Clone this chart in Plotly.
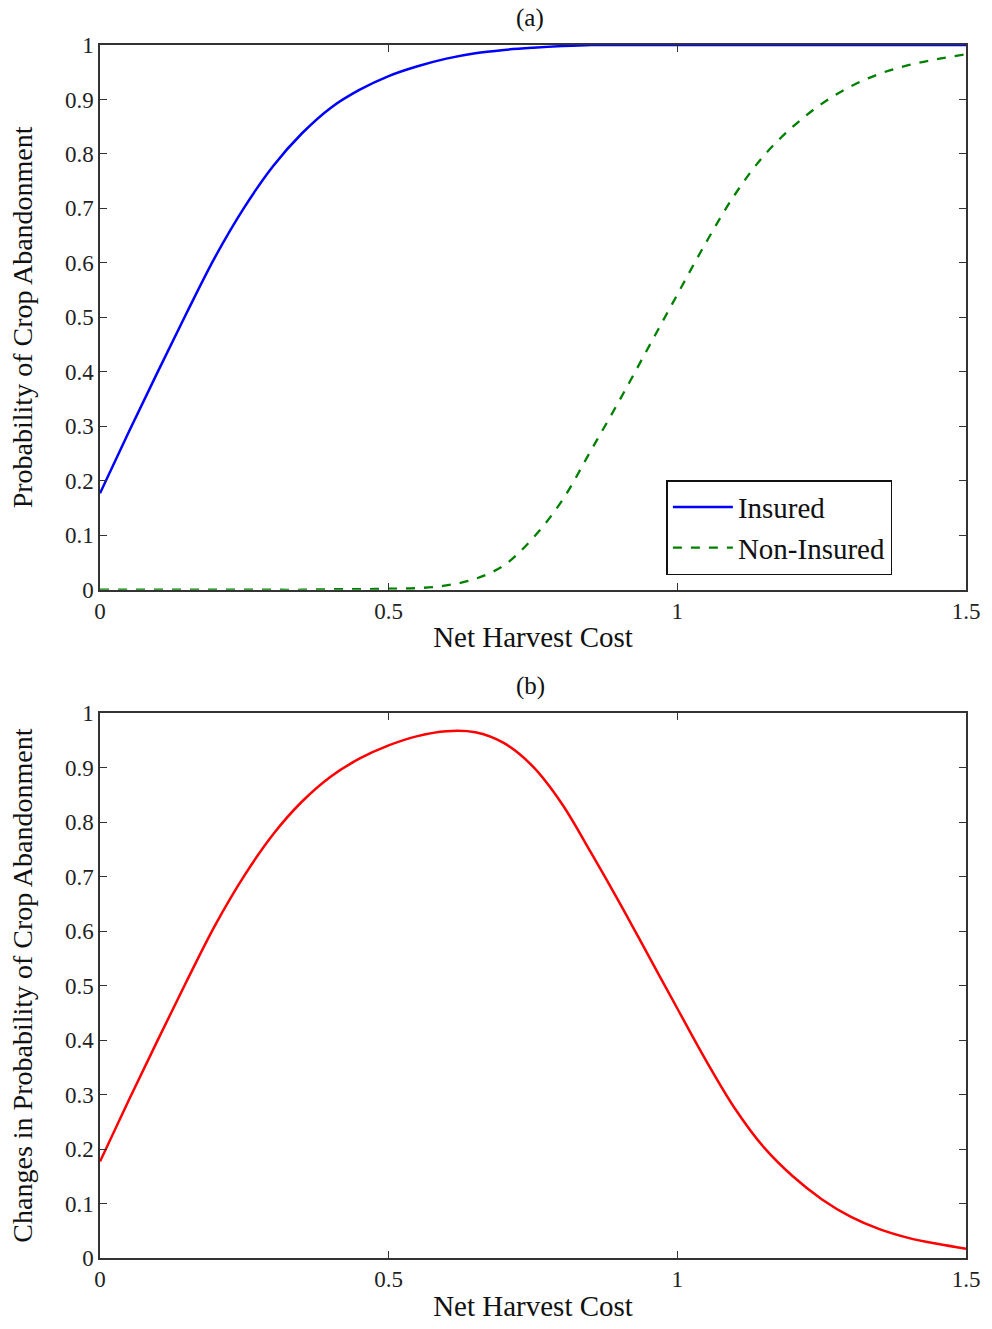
import plotly.graph_objects as go
from plotly.subplots import make_subplots

x = [0.0, 0.05, 0.1, 0.15, 0.2, 0.25, 0.3, 0.35, 0.4, 0.45, 0.5, 0.55, 0.6, 0.65, 0.7, 0.75,
     0.8, 0.85, 0.9, 0.95, 1.0, 1.05, 1.1, 1.15, 1.2, 1.25, 1.3, 1.35, 1.4, 1.45, 1.5]

insured = [0.177, 0.290, 0.400, 0.508, 0.612, 0.702, 0.778, 0.838, 0.885, 0.918, 0.943, 0.961,
           0.975, 0.985, 0.991, 0.995, 0.998, 1.0, 1.0, 1.0, 1.0, 1.0, 1.0, 1.0, 1.0, 1.0, 1.0,
           1.0, 1.0, 1.0, 1.0]

non_insured = [0.0, 0.0, 0.0, 0.0, 0.0, 0.0, 0.0, 0.0, 0.001, 0.001, 0.002, 0.003, 0.008,
               0.02, 0.045, 0.095, 0.163, 0.255, 0.348, 0.445, 0.542, 0.638, 0.726, 0.797, 0.85,
               0.892, 0.924, 0.947, 0.963, 0.974, 0.983]

change = [0.177, 0.290, 0.400, 0.508, 0.612, 0.702, 0.778, 0.838, 0.884, 0.917, 0.941, 0.958,
          0.967, 0.965, 0.945, 0.902, 0.834, 0.745, 0.652, 0.555, 0.458, 0.362, 0.274, 0.203,
          0.150, 0.108, 0.076, 0.053, 0.037, 0.026, 0.017]

xticks = [0, 0.5, 1, 1.5]
xticklabels = ["0", "0.5", "1", "1.5"]
yticks = [0, 0.1, 0.2, 0.3, 0.4, 0.5, 0.6, 0.7, 0.8, 0.9, 1]
yticklabels = ["0", "0.1", "0.2", "0.3", "0.4", "0.5", "0.6", "0.7", "0.8", "0.9", "1"]

SERIF = "Liberation Serif"

fig = make_subplots(rows=2, cols=1, vertical_spacing=124 / 1218)

fig.add_trace(go.Scatter(x=x, y=insured, mode="lines", name="Insured",
                         line=dict(color="#0000FF", width=2.5, shape="spline", smoothing=1.0)),
              row=1, col=1)
fig.add_trace(go.Scatter(x=x, y=non_insured, mode="lines", name="Non-Insured",
                         line=dict(color="#008000", width=2.3, dash="dash", shape="spline", smoothing=1.0)),
              row=1, col=1)
fig.add_trace(go.Scatter(x=x, y=change, mode="lines", name="Change", showlegend=False,
                         line=dict(color="#FF0000", width=2.5, shape="spline", smoothing=1.0)),
              row=2, col=1)

axis_common = dict(showline=True, linecolor="#333333", linewidth=1.5, mirror="ticks",
                   ticks="inside", ticklen=7, tickcolor="#333333", showgrid=False,
                   zeroline=False, tickfont=dict(family=SERIF, size=23, color="#222222"))

for r in (1, 2):
    fig.update_xaxes(range=[0, 1.5], tickvals=xticks, ticktext=xticklabels,
                     title=dict(text="Net Harvest Cost", font=dict(family=SERIF, size=29, color="#111111"),
                                standoff=4),
                     ticklabelstandoff=0,
                     row=r, col=1, **axis_common)
    fig.update_yaxes(range=[0, 1], tickvals=yticks, ticktext=yticklabels,
                     row=r, col=1, **axis_common)

fig.update_yaxes(title=dict(text="Probability of Crop Abandonment",
                            font=dict(family=SERIF, size=28, color="#111111"), standoff=24), row=1, col=1)
fig.update_yaxes(title=dict(text="Changes in Probability of Crop Abandonment",
                            font=dict(family=SERIF, size=28, color="#111111"), standoff=24), row=2, col=1)

fig.add_annotation(text="(a)", xref="paper", yref="paper", x=0.497, y=1.0, yshift=27,
                   xanchor="center", yanchor="middle", showarrow=False,
                   font=dict(family=SERIF, size=25, color="#111111"))
fig.add_annotation(text="(b)", xref="paper", yref="paper", x=0.497, y=547 / 1218, yshift=27,
                   xanchor="center", yanchor="middle", showarrow=False,
                   font=dict(family=SERIF, size=25, color="#111111"))

fig.update_layout(
    width=992, height=1329,
    margin=dict(l=100, r=22, t=45, b=66),
    paper_bgcolor="white", plot_bgcolor="white",
    legend=dict(x=0.915, y=0.563, xanchor="right", yanchor="bottom",
                bordercolor="#111111", borderwidth=1.5, bgcolor="white",
                font=dict(family=SERIF, size=29, color="#111111"),
                itemwidth=60, tracegroupgap=0),
)

fig.write_html("out.html")
